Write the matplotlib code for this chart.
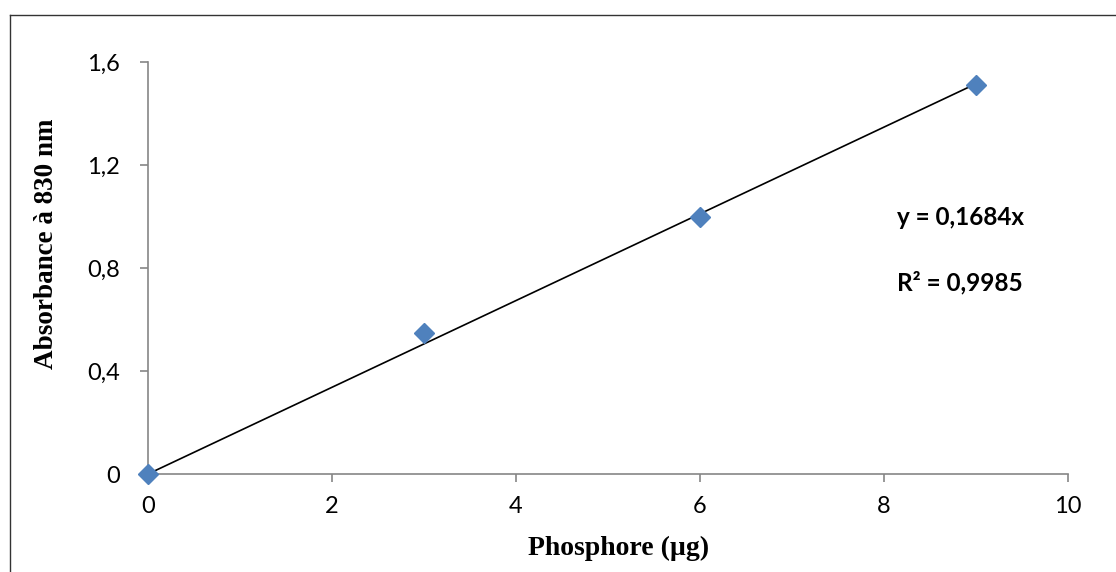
import matplotlib.pyplot as plt
from matplotlib.lines import Line2D
from matplotlib.ticker import FuncFormatter

plt.switch_backend('Agg')

# data
phosphore = [0, 3, 6, 9]
absorbance = [0, 0.548, 1.0, 1.51]
slope = 0.1684
r2 = 0.9985

x_ticks = [0, 2, 4, 6, 8, 10]
y_ticks = [0, 0.4, 0.8, 1.2, 1.6]

grey = '#868686'
blue = '#4F81BD'

fig = plt.figure(figsize=(11.16, 5.72), dpi=100)
ax = fig.add_axes([0.1326, 0.1713, 0.957 - 0.1326, 0.8916 - 0.1713])

# linear fit through origin
fit_x = [0, phosphore[-1]]
fit_y = [slope * v for v in fit_x]
ax.plot(fit_x, fit_y, color='black', lw=1.2, zorder=2)
ax.plot(phosphore, absorbance, linestyle='none', marker='D', markersize=10,
        color=blue, markeredgecolor=blue, zorder=3, clip_on=False)

ax.set_xlim(0, 10)
ax.set_ylim(0, 1.6)
ax.set_xticks(x_ticks)
ax.set_yticks(y_ticks)
ax.yaxis.set_major_formatter(FuncFormatter(lambda v, p: '0' if v == 0 else f'{v:.1f}'.replace('.', ',')))
ax.xaxis.set_major_formatter(FuncFormatter(lambda v, p: f'{v:g}'))

for s in ['top', 'right']:
    ax.spines[s].set_visible(False)
for s in ['left', 'bottom']:
    ax.spines[s].set_color(grey)
    ax.spines[s].set_linewidth(1.2)

tick_font = 'Lato'
ax.tick_params(axis='both', direction='out', length=6, width=1.2, color=grey,
               labelsize=17, labelcolor='black')
ax.tick_params(axis='y', pad=14)
ax.tick_params(axis='x', pad=10)
for lab in ax.get_xticklabels() + ax.get_yticklabels():
    lab.set_family(tick_font)

ax.set_xlabel('Phosphore (µg)', family='Liberation Serif', fontweight='bold',
              fontsize=20, va='center')
ax.set_ylabel('Absorbance à 830 nm', family='Liberation Serif', fontweight='bold',
              fontsize=19.5, va='center')
ax.xaxis.set_label_coords(0.511, -0.18)
ax.yaxis.set_label_coords(-0.110, 0.558)

eq = f'y = {slope}x'.replace('.', ',')
r2_txt = f'R² = {r2}'.replace('.', ',')
fig.text(897 / 1116, 1 - 218 / 572, eq, family='Lato', fontweight='bold',
         fontsize=17.5, va='center', ha='left')
fig.text(897 / 1116, 1 - 283 / 572, r2_txt, family='Lato', fontweight='bold',
         fontsize=17.5, va='center', ha='left')

# frame of the chart area (top and left edges visible)
fig.add_artist(Line2D([10 / 1116, 1], [1 - 15 / 572, 1 - 15 / 572], color='#333333', lw=1.0))
fig.add_artist(Line2D([10 / 1116, 10 / 1116], [0, 1 - 15 / 572], color='#333333', lw=1.0))

fig.savefig('out.png', dpi=100)
